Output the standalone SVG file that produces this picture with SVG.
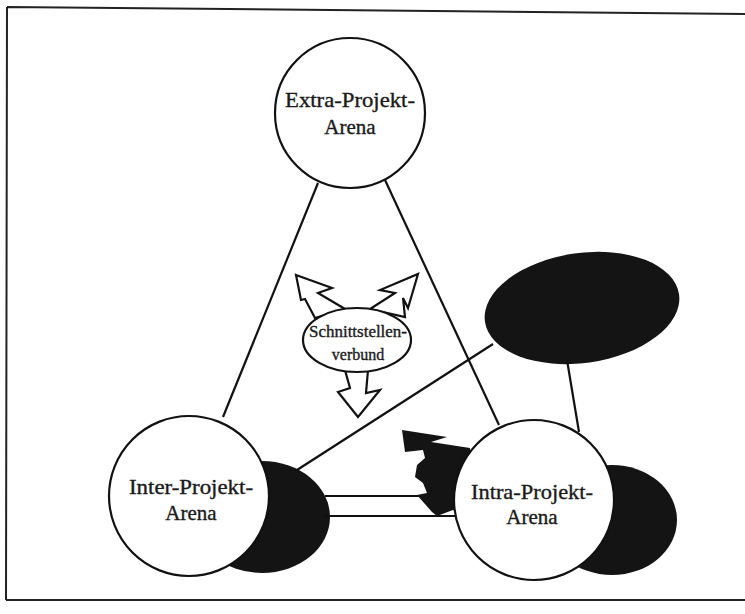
<svg xmlns="http://www.w3.org/2000/svg" width="745" height="614" viewBox="0 0 745 614">
  <style>
    .frame { fill: none; stroke: #222; stroke-width: 2; }
    .link { fill: none; stroke: #111; stroke-width: 2.2; }
    .arena { fill: #fff; stroke: #111; stroke-width: 2.2; }
    .shadow { fill: #141414; stroke: none; }
    .hollow { fill: #fff; stroke: #111; stroke-width: 2.2; stroke-linejoin: miter; }
    .label { font-family: "Liberation Serif", "Times New Roman", serif; fill: #1a1a1a; stroke: #1a1a1a; stroke-width: 0.35; text-anchor: middle; }
    .big { font-size: 21px; }
    .small { font-size: 16px; }
  </style>
  <rect width="745" height="614" fill="#fff"/>

  <!-- outer frame -->
  <g id="frame">
    <path class="frame" d="M7 7 L745 14 M7 7 L6 600 M6 600 L745 600"/>
  </g>

  <!-- dark satellite shapes -->
  <g id="shadow-top-right">
    <ellipse class="shadow" cx="582" cy="308" rx="98" ry="55" transform="rotate(-8 582 308)"/>
  </g>
  <g id="shadow-inter">
    <ellipse class="shadow" cx="262" cy="517" rx="68" ry="56"/>
  </g>
  <g id="shadow-intra">
    <ellipse class="shadow" cx="612" cy="520" rx="65" ry="55"/>
  </g>

  <!-- connectors -->
  <g id="connectors">
    <line class="link" x1="318" y1="183" x2="223" y2="417"/>
    <line class="link" x1="385" y1="180" x2="499" y2="425"/>
    <line class="link" x1="297" y1="470" x2="493" y2="344"/>
    <line class="link" x1="567" y1="360" x2="579" y2="432"/>
    <line class="link" x1="325" y1="496" x2="460" y2="496"/>
    <line class="link" x1="325" y1="516" x2="460" y2="516"/>
  </g>

  <!-- black jagged arrow into the intra arena -->
  <g id="black-arrow">
    <polygon class="shadow" points="402,430 447,437 431,442 470,448 470,515 453,510 437,516 432,512 417,495 427,493 423,483 415,477 417,465 425,458 423,450 405,452"/>
  </g>

  <!-- arenas -->
  <g id="extra-arena">
    <circle class="arena" cx="350" cy="113" r="75"/>
    <text class="label big" x="350" y="107" textLength="130" lengthAdjust="spacingAndGlyphs">Extra-Projekt-</text>
    <text class="label big" x="350" y="134">Arena</text>
  </g>
  <g id="inter-arena">
    <circle class="arena" cx="189" cy="496" r="80"/>
    <text class="label big" x="191" y="494" textLength="124" lengthAdjust="spacingAndGlyphs">Inter-Projekt-</text>
    <text class="label big" x="191" y="520">Arena</text>
  </g>
  <g id="intra-arena">
    <circle class="arena" cx="534" cy="500" r="80"/>
    <text class="label big" x="532" y="499" textLength="122" lengthAdjust="spacingAndGlyphs">Intra-Projekt-</text>
    <text class="label big" x="532" y="524">Arena</text>
  </g>

  <!-- interface network with its three hollow arrows -->
  <g id="schnittstellenverbund">
    <polygon class="hollow" points="296,275 332,288 318,293 345,309 315,318 305,299 301,300"/>
    <polygon class="hollow" points="418,274 408,308 403,298 405,317 370,309 395,293 380,290"/>
    <polygon class="hollow" points="345,370 368,370 366,393 380,390 358,417 338,392 350,388"/>
    <ellipse class="arena" cx="357" cy="340" rx="54" ry="32"/>
    <text class="label small" x="358" y="337" textLength="98" lengthAdjust="spacingAndGlyphs">Schnittstellen-</text>
    <text class="label small" x="358" y="360">verbund</text>
  </g>
</svg>
